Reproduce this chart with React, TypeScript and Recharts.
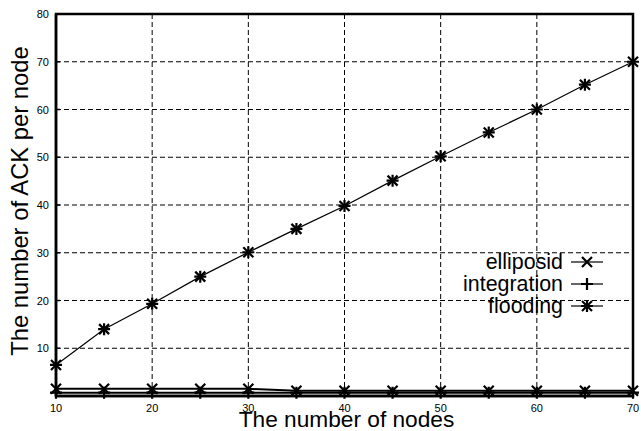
import React from 'react';
import { LineChart, Line, XAxis, YAxis, CartesianGrid, ReferenceArea } from 'recharts';

const nodes = [10, 15, 20, 25, 30, 35, 40, 45, 50, 55, 60, 65, 70];
const elliposid = [1.5, 1.5, 1.5, 1.5, 1.5, 1.1, 1.1, 1.1, 1.1, 1.1, 1.1, 1.1, 1.1];
const integration = [0.7, 0.7, 0.7, 0.7, 0.7, 0.7, 0.7, 0.7, 0.7, 0.7, 0.7, 0.7, 0.7];
const flooding = [6.5, 14, 19.3, 25, 30.1, 35, 39.8, 45.1, 50.2, 55.2, 60, 65.2, 70];

const xTicks = [10, 15, 20, 25, 30, 35, 40, 45, 50, 55, 60, 65, 70];
const yTicks = [10, 20, 30, 40, 50, 60, 70, 80];

const data = nodes.map((n, i) => ({
  n,
  elliposid: elliposid[i],
  integration: integration[i],
  flooding: flooding[i],
}));

const FONT = '"Liberation Sans", Arial, Helvetica, sans-serif';

// marker shapes
const Cross = ({ cx, cy, s = 5 }: any) => (
  <path d={`M${cx - s},${cy - s}L${cx + s},${cy + s}M${cx - s},${cy + s}L${cx + s},${cy - s}`} stroke="#000" strokeWidth={2.2} fill="none" />
);
const Plus = ({ cx, cy, s = 6 }: any) => (
  <path d={`M${cx - s},${cy}L${cx + s},${cy}M${cx},${cy - s}L${cx},${cy + s}`} stroke="#000" strokeWidth={2.2} fill="none" />
);
const Star = ({ cx, cy, s = 5 }: any) => (
  <g>
    <Cross cx={cx} cy={cy} s={s} />
    <Plus cx={cx} cy={cy} s={s + 1} />
  </g>
);

const XTick = ({ x, y, payload }: any) => (
  <g>
    <line x1={x} y1={y} x2={x} y2={y - 4} stroke="#000" strokeWidth={1.5} />
    {payload.value % 10 === 0 && (
      <text x={x} y={y + 16} textAnchor="middle" fontSize={11} fontFamily={FONT} fill="#000">
        {payload.value}
      </text>
    )}
  </g>
);

const YTick = ({ x, y, payload }: any) => (
  <g>
    <line x1={x} y1={y} x2={x + 4} y2={y} stroke="#000" strokeWidth={1.5} />
    {payload.value > 0 && (
      <text x={x - 7} y={y + 4} textAnchor="end" fontSize={11} fontFamily={FONT} fill="#000">
        {payload.value}
      </text>
    )}
  </g>
);

const YTickRight = ({ x, y }: any) => (
  <line x1={x} y1={y} x2={x - 4} y2={y} stroke="#000" strokeWidth={1.5} />
);

const legendItems = [
  { name: 'elliposid', Marker: Cross },
  { name: 'integration', Marker: Plus },
  { name: 'flooding', Marker: Star },
];

const LegendBox = () => (
  <svg width={230} height={70} style={{ position: 'absolute', left: 400, top: 250 }}>
    {legendItems.map((it, i) => {
      const cy = 12 + i * 22;
      return (
        <g key={it.name}>
          <text x={163} y={cy + 7} textAnchor="end" fontSize={21.4} fontFamily={FONT} fill="#000">
            {it.name}
          </text>
          <line x1={171} y1={cy} x2={203} y2={cy} stroke="#000" strokeWidth={1.2} />
          <it.Marker cx={187} cy={cy} />
        </g>
      );
    })}
  </svg>
);

export default function App() {
  return (
    <div style={{ position: 'absolute', left: 0, top: 0, width: 641, height: 431, background: '#fff' }}>
      <LineChart width={641} height={431} data={data} margin={{ top: 14, right: 7, left: 0, bottom: 0 }}>
        <CartesianGrid stroke="#000" strokeDasharray="5 3" strokeWidth={1} verticalValues={[20, 30, 40, 50, 60]} horizontalValues={[10, 20, 30, 40, 50, 60, 70]} />
        <XAxis
          dataKey="n"
          type="number"
          domain={[10, 70]}
          ticks={xTicks}
          interval={0}
          height={35}
          tickSize={0}
          tickMargin={0}
          tick={<XTick />}
          axisLine={{ stroke: '#000', strokeWidth: 2.5 }}
          label={(props: any) => {
            const vb = props.viewBox;
            return (
              <text x={vb.x + vb.width / 2 + 2} y={vb.y + 31} textAnchor="middle" fontSize={22.7} fontFamily={FONT} fill="#000">
                The number of nodes
              </text>
            );
          }}
        />
        <YAxis
          type="number"
          domain={[0, 80]}
          ticks={yTicks}
          interval={0}
          width={56}
          tickSize={0}
          tickMargin={0}
          tick={<YTick />}
          axisLine={{ stroke: '#000', strokeWidth: 2.5 }}
          label={() => {
            const cx = 28;
            const cy = 201;
            return (
              <text x={cx} y={cy} transform={`rotate(-90 ${cx} ${cy})`} textAnchor="middle" fontSize={23.8} fontFamily={FONT} fill="#000">
                The number of ACK per node
              </text>
            );
          }}
        />
        <YAxis yAxisId="right" orientation="right" type="number" domain={[0, 80]} ticks={yTicks} width={1} tickSize={0} tickMargin={0} tick={<YTickRight />} axisLine={false} />
        <ReferenceArea x1={10} x2={70} y1={0} y2={80} fill="none" stroke="#000" strokeWidth={2.5} fillOpacity={0} ifOverflow="visible" />
        <Line dataKey="integration" stroke="#000" strokeWidth={2} dot={(p: any) => <Plus key={p.index} cx={p.cx} cy={p.cy} />} isAnimationActive={false} />
        <Line dataKey="elliposid" stroke="#000" strokeWidth={2} dot={(p: any) => <Cross key={p.index} cx={p.cx} cy={p.cy} />} isAnimationActive={false} />
        <Line dataKey="flooding" stroke="#000" strokeWidth={1.2} dot={(p: any) => <Star key={p.index} cx={p.cx} cy={p.cy} />} isAnimationActive={false} />
      </LineChart>
      <LegendBox />
    </div>
  );
}
